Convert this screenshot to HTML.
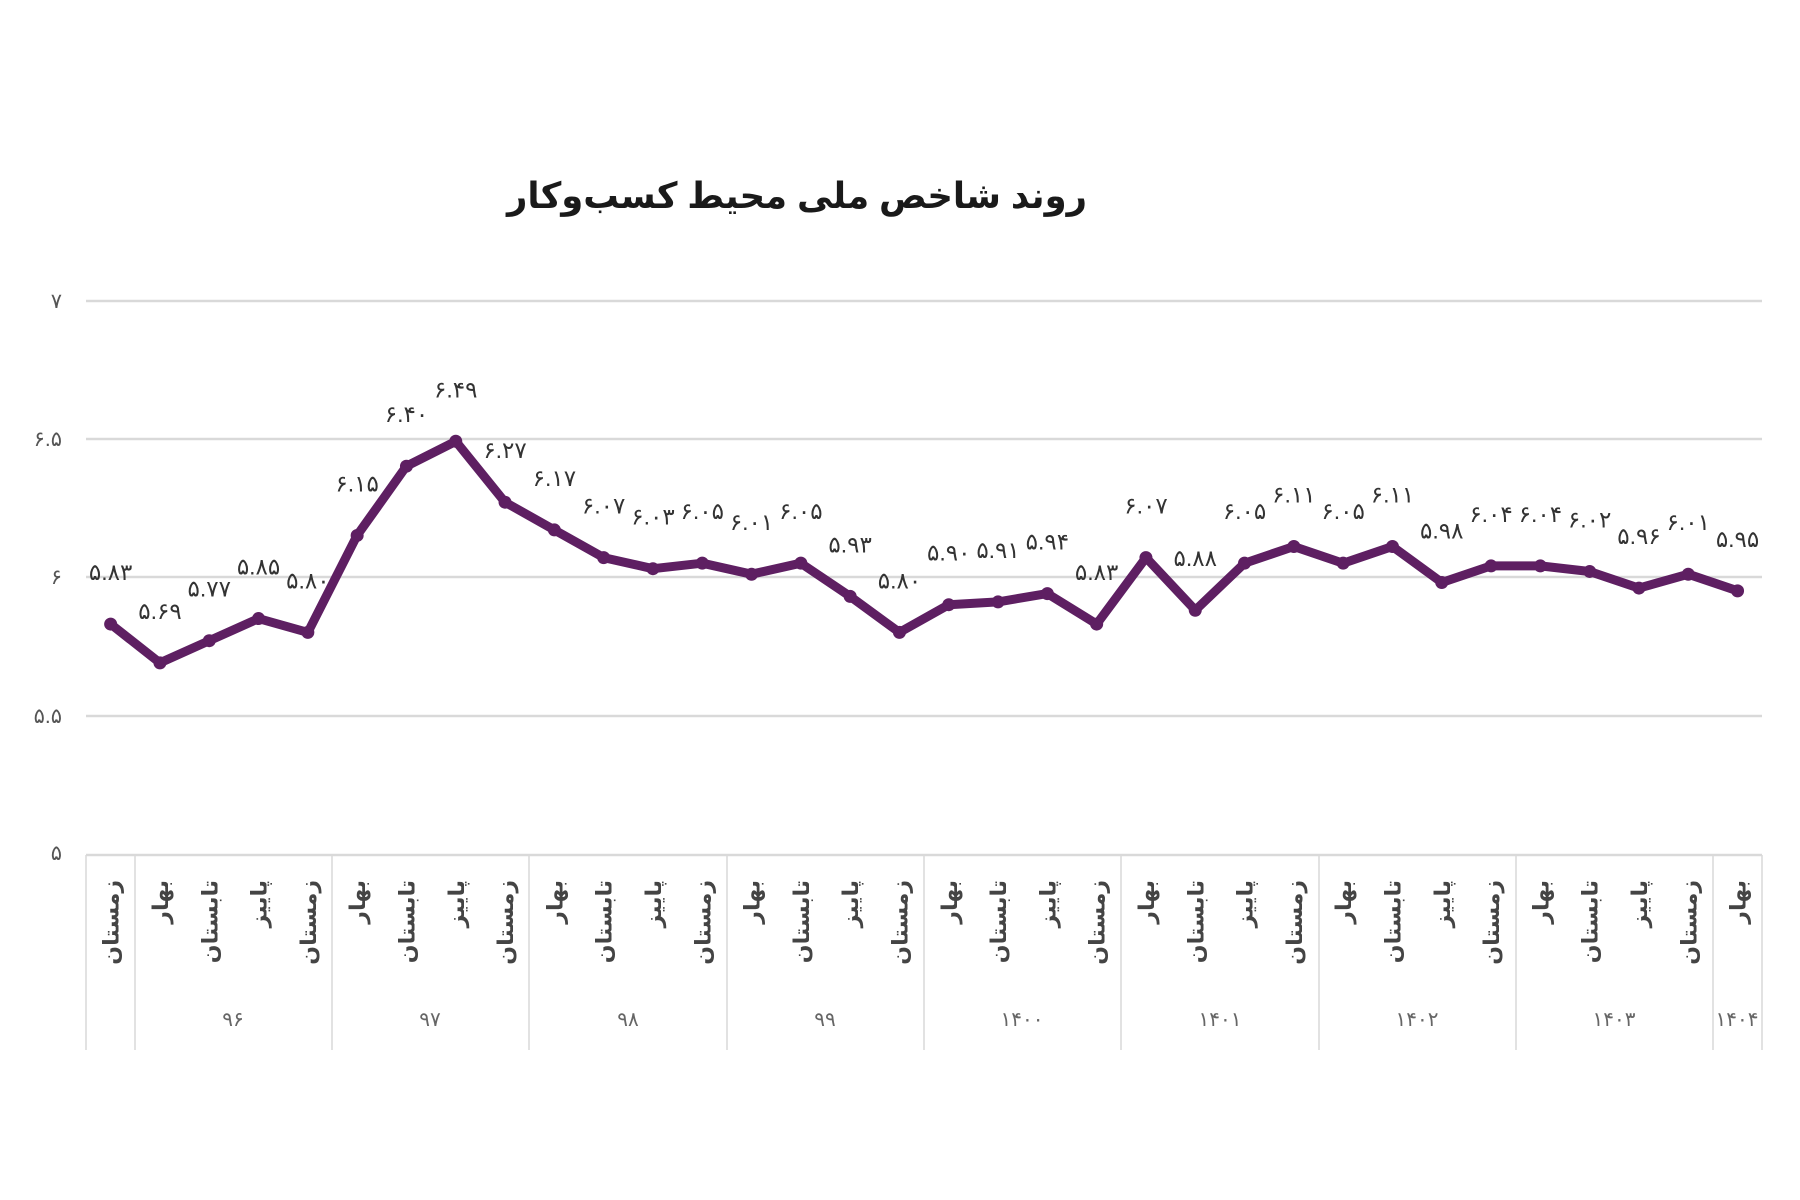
<!DOCTYPE html>
<html><head><meta charset="utf-8"><style>
html,body{margin:0;padding:0;background:#fff;}
svg{display:block;}
text{font-family:"Liberation Sans","Noto Sans CJK SC","DejaVu Sans",sans-serif;}
</style></head><body>
<svg width="1800" height="1200" viewBox="0 0 1800 1200" xmlns="http://www.w3.org/2000/svg">
<rect width="1800" height="1200" fill="#fff"/>
<text x="797" y="208" text-anchor="middle" font-size="36" font-weight="bold" fill="#1a1a1a" direction="rtl" textLength="580" lengthAdjust="spacingAndGlyphs">روند شاخص ملی محیط کسب‌وکار</text>
<g stroke="#d9d9d9" stroke-width="2.5">
<line x1="86" y1="301" x2="1762" y2="301"/>
<line x1="86" y1="439" x2="1762" y2="439"/>
<line x1="86" y1="577" x2="1762" y2="577"/>
<line x1="86" y1="716" x2="1762" y2="716"/>
<line x1="86" y1="855" x2="1762" y2="855"/>
</g>
<g stroke="#d9d9d9" stroke-width="1.5">
<line x1="86" y1="855" x2="86" y2="1050"/>
<line x1="135" y1="855" x2="135" y2="1050"/>
<line x1="332" y1="855" x2="332" y2="1050"/>
<line x1="529" y1="855" x2="529" y2="1050"/>
<line x1="727" y1="855" x2="727" y2="1050"/>
<line x1="924" y1="855" x2="924" y2="1050"/>
<line x1="1121" y1="855" x2="1121" y2="1050"/>
<line x1="1319" y1="855" x2="1319" y2="1050"/>
<line x1="1516" y1="855" x2="1516" y2="1050"/>
<line x1="1713" y1="855" x2="1713" y2="1050"/>
<line x1="1762" y1="855" x2="1762" y2="1050"/>
</g>
<g font-size="21" fill="#555" text-anchor="end">
<text x="62" y="308">۷</text>
<text x="62" y="446">۶.۵</text>
<text x="62" y="584">۶</text>
<text x="62" y="723">۵.۵</text>
<text x="62" y="860">۵</text>
</g>
<g font-size="20" fill="#666" text-anchor="middle">
<text x="233" y="1026">۹۶</text>
<text x="430" y="1026">۹۷</text>
<text x="628" y="1026">۹۸</text>
<text x="825" y="1026">۹۹</text>
<text x="1022" y="1026">۱۴۰۰</text>
<text x="1220" y="1026">۱۴۰۱</text>
<text x="1417" y="1026">۱۴۰۲</text>
<text x="1614" y="1026">۱۴۰۳</text>
<text x="1737" y="1026">۱۴۰۴</text>
</g>
<g id="cats" font-size="22" font-weight="bold" fill="#444" text-anchor="end"></g>
<polyline id="ln" fill="none" stroke="#5e1f62" stroke-width="9" stroke-linejoin="round" stroke-linecap="round" points=""/>
<g id="mk" fill="#5e1f62"></g>
<g id="lb" font-size="23" fill="#333" text-anchor="middle"></g>
</svg>
<script>
var v=[5.83,5.69,5.77,5.85,5.80,6.15,6.40,6.49,6.27,6.17,6.07,6.03,6.05,6.01,6.05,5.93,5.80,5.90,5.91,5.94,5.83,6.07,5.88,6.05,6.11,6.05,6.11,5.98,6.04,6.04,6.02,5.96,6.01,5.95];
var seasons=["بهار","تابستان","پاییز","زمستان"];
var fa="۰۱۲۳۴۵۶۷۸۹";
function toFa(s){return s.replace(/[0-9]/g,function(d){return fa[+d];});}
var ns="http://www.w3.org/2000/svg",pts=[];
for(var i=0;i<v.length;i++){
 var x=86+49.3*(i+0.5),y=854-(v[i]-5)*277;
 pts.push(x.toFixed(1)+","+y.toFixed(1));
 var c=document.createElementNS(ns,"circle");c.setAttribute("cx",x);c.setAttribute("cy",y);c.setAttribute("r",6.5);document.getElementById("mk").appendChild(c);
 var t=document.createElementNS(ns,"text");t.setAttribute("x",x);t.setAttribute("y",y-44);t.textContent=toFa(v[i].toFixed(2));document.getElementById("lb").appendChild(t);
 var s=seasons[(i+3)%4];
 var ct=document.createElementNS(ns,"text");ct.setAttribute("transform","translate("+(x+8)+",880) rotate(-90)");ct.setAttribute("x",0);ct.setAttribute("y",0);ct.textContent=s;document.getElementById("cats").appendChild(ct);
}
document.getElementById("ln").setAttribute("points",pts.join(" "));
</script>
</body></html>
